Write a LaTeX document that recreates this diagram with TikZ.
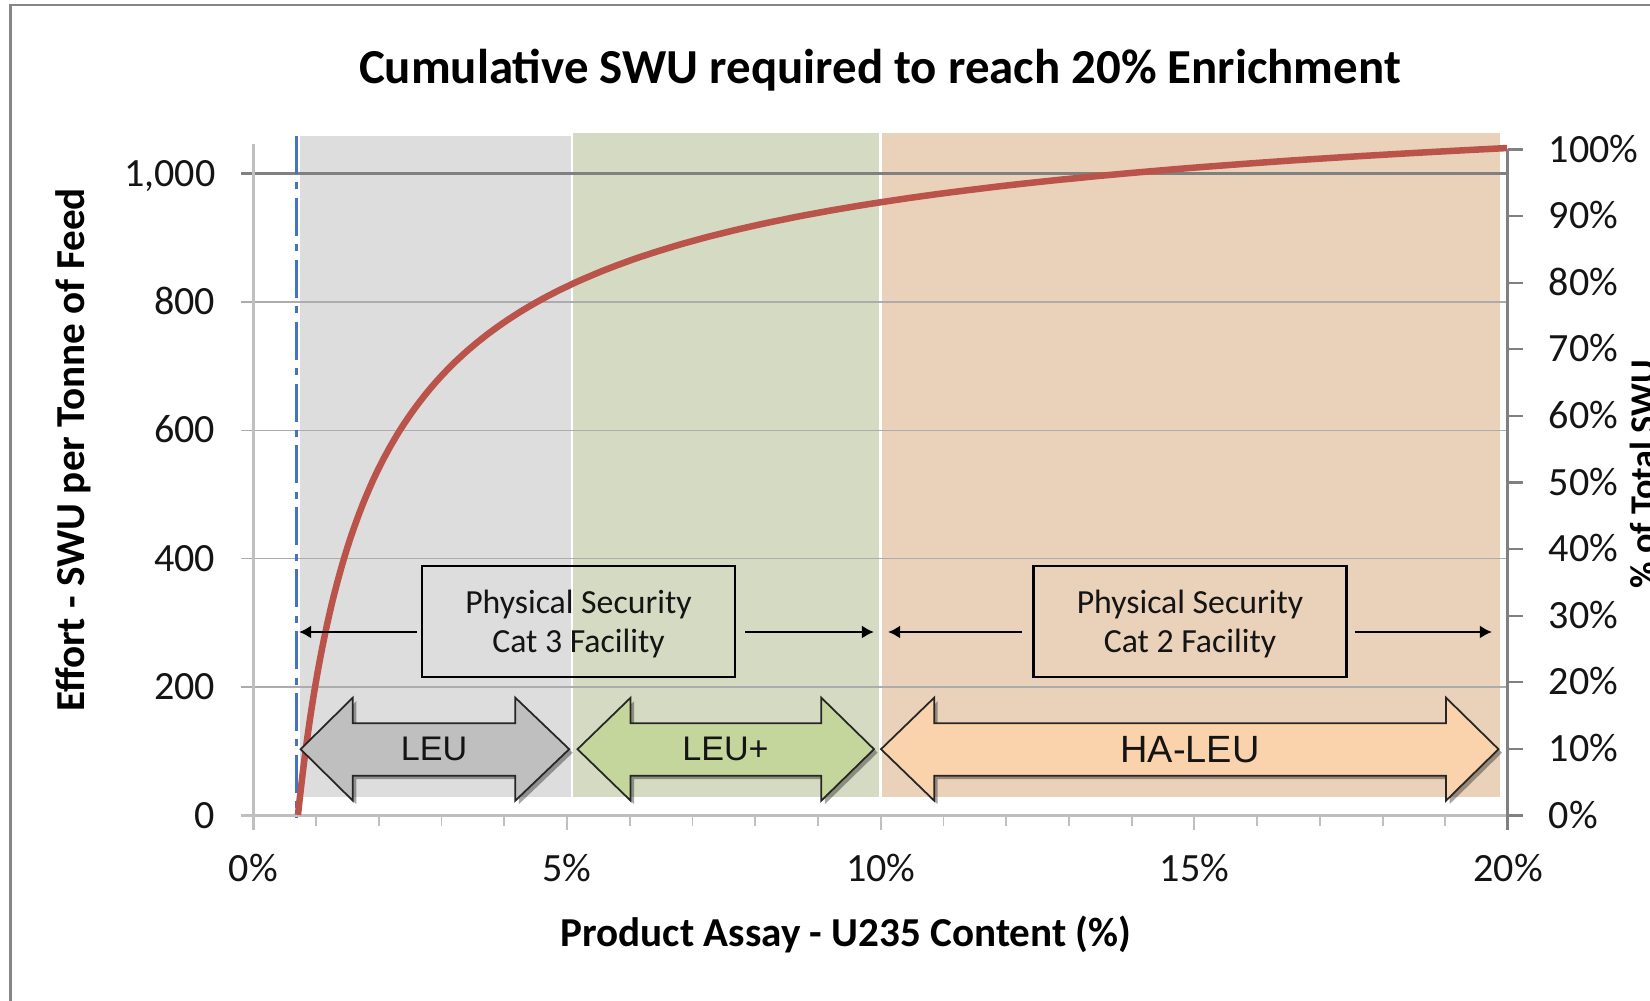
\documentclass[tikz,border=0pt]{standalone}
\usepackage{fontspec}
\setmainfont{Carlito}
\newfontfamily\arialf{Liberation Sans}
\usetikzlibrary{arrows.meta,shadows}

\definecolor{bandgray}{RGB}{221,221,221}
\definecolor{bandgreen}{RGB}{213,219,194}
\definecolor{bandorange}{RGB}{233,209,186}
\definecolor{leugray}{RGB}{191,191,191}
\definecolor{leugreen}{RGB}{196,214,156}
\definecolor{leuorange}{RGB}{250,211,173}
\definecolor{curvered}{RGB}{186,84,74}
\definecolor{natblue}{RGB}{68,114,196}
\definecolor{gridc}{RGB}{172,172,172}
\definecolor{axisc}{RGB}{191,191,191}
\definecolor{darkgrid}{RGB}{128,128,128}
\definecolor{framec}{RGB}{134,134,134}
\definecolor{textc}{RGB}{20,20,20}

\begin{document}
\begin{tikzpicture}[x=0.01cm, y=-0.01cm,
  declare function={Vq(\t)=((\t)-50)/50*(ln(\t)-ln(100-(\t)));
                    Sq(\t)=0.461/((\t)-0.25)*(Vq(\t)-5.959015)+1.091125;},
  ticklab/.style={font=\fontsize{11.4}{13}\selectfont, inner sep=0pt, text=textc},
  axlab/.style={font=\bfseries\fontsize{11.7}{14}\selectfont, inner sep=0pt, text=black},
  gridline/.style={draw=gridc, line width=0.43pt},
  topgrid/.style={draw=darkgrid, line width=0.7pt},
  laxis/.style={draw=axisc, line width=0.7pt},
  raxis/.style={draw=darkgrid, line width=0.65pt},
  curve/.style={draw=curvered, line width=1.85pt},
  natline/.style={draw=natblue, line width=0.7pt, dash pattern=on 10.8pt off 2.4pt on 2pt off 2.4pt},
  secbox/.style={draw=black, line width=0.75pt, minimum width=3.13cm, minimum height=1.11cm,
                 align=center, inner sep=0pt, text depth=0pt, font=\fontsize{9.6}{11.1}\selectfont, text=textc},
  secarrow/.style={draw=black, line width=0.75pt, -{Latex[length=1.2mm,width=1.3mm]}},
  blockarrow/.style={draw=black!85, line width=0.5pt,
                     drop shadow={shadow xshift=0.35mm, shadow yshift=-0.35mm, opacity=0.35, fill=black}},
  blocklab/.style={font=\arialf\fontsize{9.7}{11}\selectfont, inner sep=0pt, text=textc},
]
\useasboundingbox (0,0) rectangle (1650,1001);
\clip (0,0) rectangle (1650,1001);
\fill[white] (0,0) rectangle (1650,1001);

% outer frame
\draw[framec, line width=0.75pt] (10.5,1005) -- (10.5,5) -- (1655,5);

% coloured bands
\fill[bandgray] (300,136) rectangle (571,797);
\fill[bandgreen] (573,133) rectangle (879,797);
\fill[bandorange] (882,133) rectangle (1500,797);

% gridlines
\foreach \v in {200,400,600,800}
  \draw[gridline] (241,815.5-0.642*\v) -- (1507.5,815.5-0.642*\v);
\draw[topgrid] (241,173.5) -- (1507.5,173.5);

% axes
\draw[laxis] (253.4,144) -- (253.4,830);
\draw[laxis] (241,815.5) -- (1523,815.5);
\foreach \i in {1,...,19}
  \draw[laxis, line width=0.5pt] (253.4+62.735*\i,815.5) -- ++(0,11);
\foreach \i in {0,5,10,15,20}
  \draw[laxis, line width=0.55pt] (253.4+62.735*\i,815.5) -- ++(0,14.5);
\draw[raxis] (1507.5,149) -- (1507.5,830);
\foreach \p in {0,10,...,100}
  \draw[raxis] (1507.5,815.5-6.66*\p) -- ++(15.5,0);

% tick labels
\foreach \v/\lab in {0/0,200/200,400/400,600/600,800/800,1000/{1,000}}
  \node[ticklab, anchor=base east] (yl\v) at (216,815.5-0.642*\v+12.7) {\lab};
\foreach \p in {0,10,...,100}
  \node[ticklab, anchor=base west] (rl\p) at (1548,815.5-6.66*\p+12.7) {\p\%};
\foreach \p in {0,5,10,15,20}
  \node[ticklab, anchor=base] (xl\p) at (253.4+62.735*\p,881.7) {\p\%};

% natural uranium line
\draw[natline] (296.5,136) -- (296.5,818);

% SWU curve
\draw[curve] plot[domain=0:3.3368, samples=160, variable=\s]
  ({253.4+62.735*0.711*exp(\s)}, {815.5-687.1*Sq(0.711*exp(\s))});

% titles
\node[font=\bfseries\fontsize{13.9}{16}\selectfont, anchor=base, inner sep=0pt] (title)
  at (880,84) {Cumulative SWU required to reach 20\% Enrichment};
\node[axlab, rotate=90, anchor=base] (ylab) at (84,450) {Effort - SWU per Tonne of Feed};
\node[axlab, anchor=base] (xlab) at (846,947) {Product Assay - U235 Content (\%)};
\node[axlab, font=\bfseries\fontsize{10.3}{12}\selectfont, rotate=90, anchor=north] (rlab)
  at (1629,474) {\% of Total SWU};

% physical security boxes
\node[secbox] (cat3) at (578.5,621.5) {Physical Security\\Cat 3 Facility};
\node[secbox] (cat2) at (1190,621.5) {Physical Security\\Cat 2 Facility};
\coordinate (c3l) at (299,632);
\coordinate (c3r) at (874,632);
\coordinate (c2l) at (888,632);
\coordinate (c2r) at (1492,632);
\draw[secarrow, shorten <=0.4mm] (cat3.west |- c3l) -- (c3l);
\draw[secarrow, shorten <=0.9mm] (cat3.east |- c3r) -- (c3r);
\draw[secarrow, shorten <=1.0mm] (cat2.west |- c2l) -- (c2l);
\draw[secarrow, shorten <=0.7mm] (cat2.east |- c2r) -- (c2r);

% block double arrows
\filldraw[blockarrow, fill=leugray]
  (300.6,749.2) -- (352.8,697.7) -- (352.8,723.3) -- (515.3,723.3) -- (515.3,697.7)
  -- (569.2,749.2) -- (515.3,800.7) -- (515.3,775.7) -- (352.8,775.7) -- (352.8,800.7) -- cycle;
\filldraw[blockarrow, fill=leugreen]
  (577.5,749.2) -- (630.6,697.7) -- (630.6,723.3) -- (821.3,723.3) -- (821.3,697.7)
  -- (874,749.2) -- (821.3,800.7) -- (821.3,775.7) -- (630.6,775.7) -- (630.6,800.7) -- cycle;
\filldraw[blockarrow, fill=leuorange]
  (881,749.2) -- (934.2,697.7) -- (934.2,723.3) -- (1446,723.3) -- (1446,697.7)
  -- (1498.5,749.2) -- (1446,800.7) -- (1446,775.7) -- (934.2,775.7) -- (934.2,800.7) -- cycle;
\node[blocklab] (leu) at (434,749.2) {LEU};
\node[blocklab] (leuplus) at (725.5,749.2) {LEU+};
\node[blocklab, font=\arialf\fontsize{10.8}{12}\selectfont] (haleu) at (1190,749.2) {HA-LEU};
\end{tikzpicture}
\end{document}
